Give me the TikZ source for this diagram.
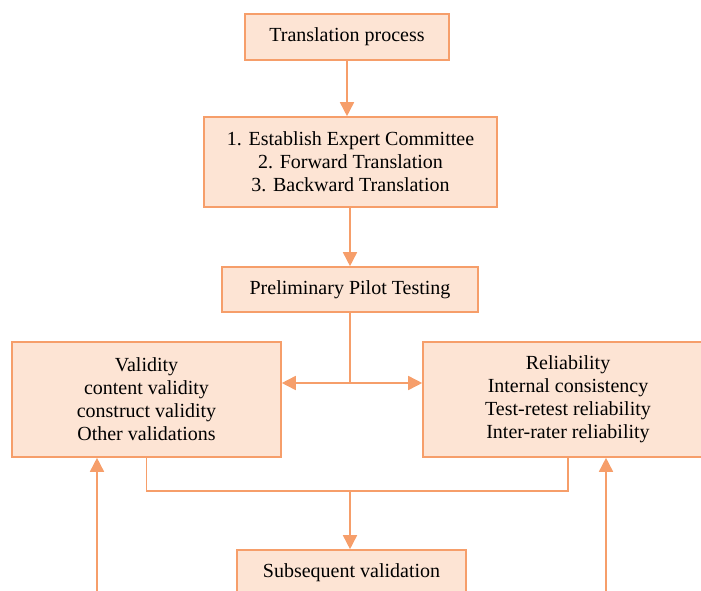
\documentclass[tikz,border=0pt]{standalone}
\usepackage{fontspec}
\setmainfont{Liberation Serif}
\usetikzlibrary{arrows.meta,positioning}

\definecolor{boxline}{RGB}{246,158,106}
\definecolor{boxfill}{RGB}{253,228,212}

\tikzset{
  stage/.style={draw=boxline, fill=boxfill, line width=1.6pt, align=center,
    font=\fontsize{20}{23}\selectfont, inner sep=0pt},
  flow/.style={draw=boxline, line width=1.6pt, -{Triangle[length=14pt,width=14pt]}},
  link/.style={draw=boxline, line width=1.6pt}
}

\begin{document}
\begin{tikzpicture}[x=1pt,y=-1pt]
      \clip (0,0) rectangle (701,591);
      % boxes
      \node [stage, minimum width=204pt, minimum height=46pt] (trans) at (347,37) {Translation process};
      \node [stage, minimum width=293pt, minimum height=90pt] (steps) at (350.5,162)
        {1. Establish Expert Committee\\2. Forward Translation\\3. Backward Translation};
      \node [stage, minimum width=256pt, minimum height=45pt] (pilot) at (350,289.5) {Preliminary Pilot Testing};
      \node [stage, minimum width=269pt, minimum height=115pt] (valid) at (146.5,399.5)
        {Validity\\content validity\\construct validity\\Other validations};
      \node [stage, minimum width=290pt, minimum height=115pt] (relia) at (568,399.5)
        {Reliability\\Internal consistency\\Test-retest reliability\\Inter-rater reliability};
      \node [stage, minimum width=229pt, minimum height=46pt] (subseq) at (351.5,573) {Subsequent validation};
      % helper points
      \coordinate (split) at (350,383);
      \coordinate (join) at (350,491);
      \coordinate (lfeed) at (97,600);
      \coordinate (rfeed) at (606,600);
      % connectors
      \draw [flow] (trans.south) -- (trans.south |- steps.north);
      \draw [flow] (pilot.north |- steps.south) -- (pilot.north);
      \draw [link] (pilot.south) -- (split);
      \draw [flow] (split) -- (split -| valid.east);
      \draw [flow] (split) -- (split -| relia.west);
      \draw [link] (valid.south) -- (valid.south |- join) -- (relia.south |- join) -- (relia.south);
      \draw [flow] (join) -- (join |- subseq.north);
      \draw [flow] (lfeed) -- (lfeed |- valid.south);
      \draw [flow] (rfeed) -- (rfeed |- relia.south);
    \end{tikzpicture}
\end{document}
